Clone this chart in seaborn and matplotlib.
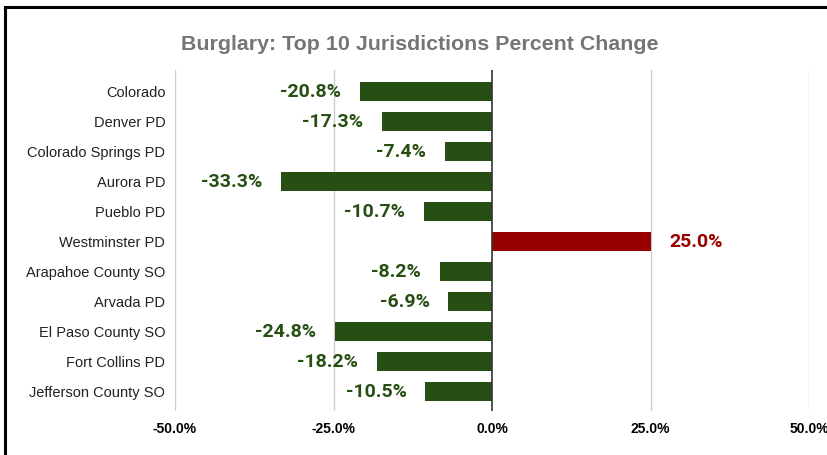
import matplotlib
matplotlib.use("Agg")
import matplotlib.pyplot as plt
import seaborn as sns
import pandas as pd
from matplotlib.lines import Line2D

jurisdictions = ["Colorado", "Denver PD", "Colorado Springs PD", "Aurora PD", "Pueblo PD",
                 "Westminster PD", "Arapahoe County SO", "Arvada PD", "El Paso County SO",
                 "Fort Collins PD", "Jefferson County SO"]
pct_change = [-20.8, -17.3, -7.4, -33.3, -10.7, 25.0, -8.2, -6.9, -24.8, -18.2, -10.5]
x_ticks = [-50, -25, 0, 25, 50]
x_tick_labels = ["-50.0%", "-25.0%", "0.0%", "25.0%", "50.0%"]

GREEN = "#274e13"
RED = "#990000"

df = pd.DataFrame({"Jurisdiction": jurisdictions, "Change": pct_change})
df["Sign"] = ["neg" if v < 0 else "pos" for v in df["Change"]]

sns.set_theme(style="white")
plt.rcParams["font.family"] = ["Liberation Sans", "DejaVu Sans"]

fig = plt.figure(figsize=(8.27, 4.55), dpi=100)
ax = fig.add_axes([175/827, 1-411/455, (809-175)/827, (411-70)/455])

sns.barplot(data=df, y="Jurisdiction", x="Change", hue="Sign",
            palette={"neg": GREEN, "pos": RED}, orient="h", width=0.63,
            saturation=1, linewidth=0, legend=False, ax=ax, dodge=False)

ax.set_xlim(-50, 50)
ax.set_ylim(10.65, -0.72)
ax.set_xticks(x_ticks)
ax.set_xticklabels(x_tick_labels, fontweight="bold", fontsize=10, color="#000000")
ax.tick_params(axis="x", length=0, pad=8)
ax.tick_params(axis="y", length=0, pad=7, labelsize=10.5, labelcolor="#222222")
ax.set_xlabel("")
ax.set_ylabel("")
for s in ax.spines.values():
    s.set_visible(False)
for t in [-50, -25, 25, 50]:
    ax.axvline(t, color="#cccccc", lw=1, zorder=0)
ax.axvline(0, color="#333333", lw=1.2, zorder=3)

for i, v in enumerate(pct_change):
    col = GREEN if v < 0 else RED
    off = -2.95 if v < 0 else 2.95
    ax.text(v + off, i, f"{v:.1f}%", ha="right" if v < 0 else "left", va="center",
            fontsize=14, fontweight="bold", color=col, family=["Roboto", "DejaVu Sans"])

fig.text(420/827, 1-44/455, "Burglary: Top 10 Jurisdictions Percent Change",
         ha="center", va="center", fontsize=15.4, fontweight="bold", color="#757575")

fig.add_artist(Line2D([4.5/827, 4.5/827], [0, 1-6.5/455], transform=fig.transFigure,
                      color="black", lw=2.2, solid_capstyle="projecting"))
fig.add_artist(Line2D([4.5/827, 1], [1-6.5/455, 1-6.5/455], transform=fig.transFigure,
                      color="black", lw=2.2, solid_capstyle="projecting"))

fig.savefig("out.png", dpi=100)
